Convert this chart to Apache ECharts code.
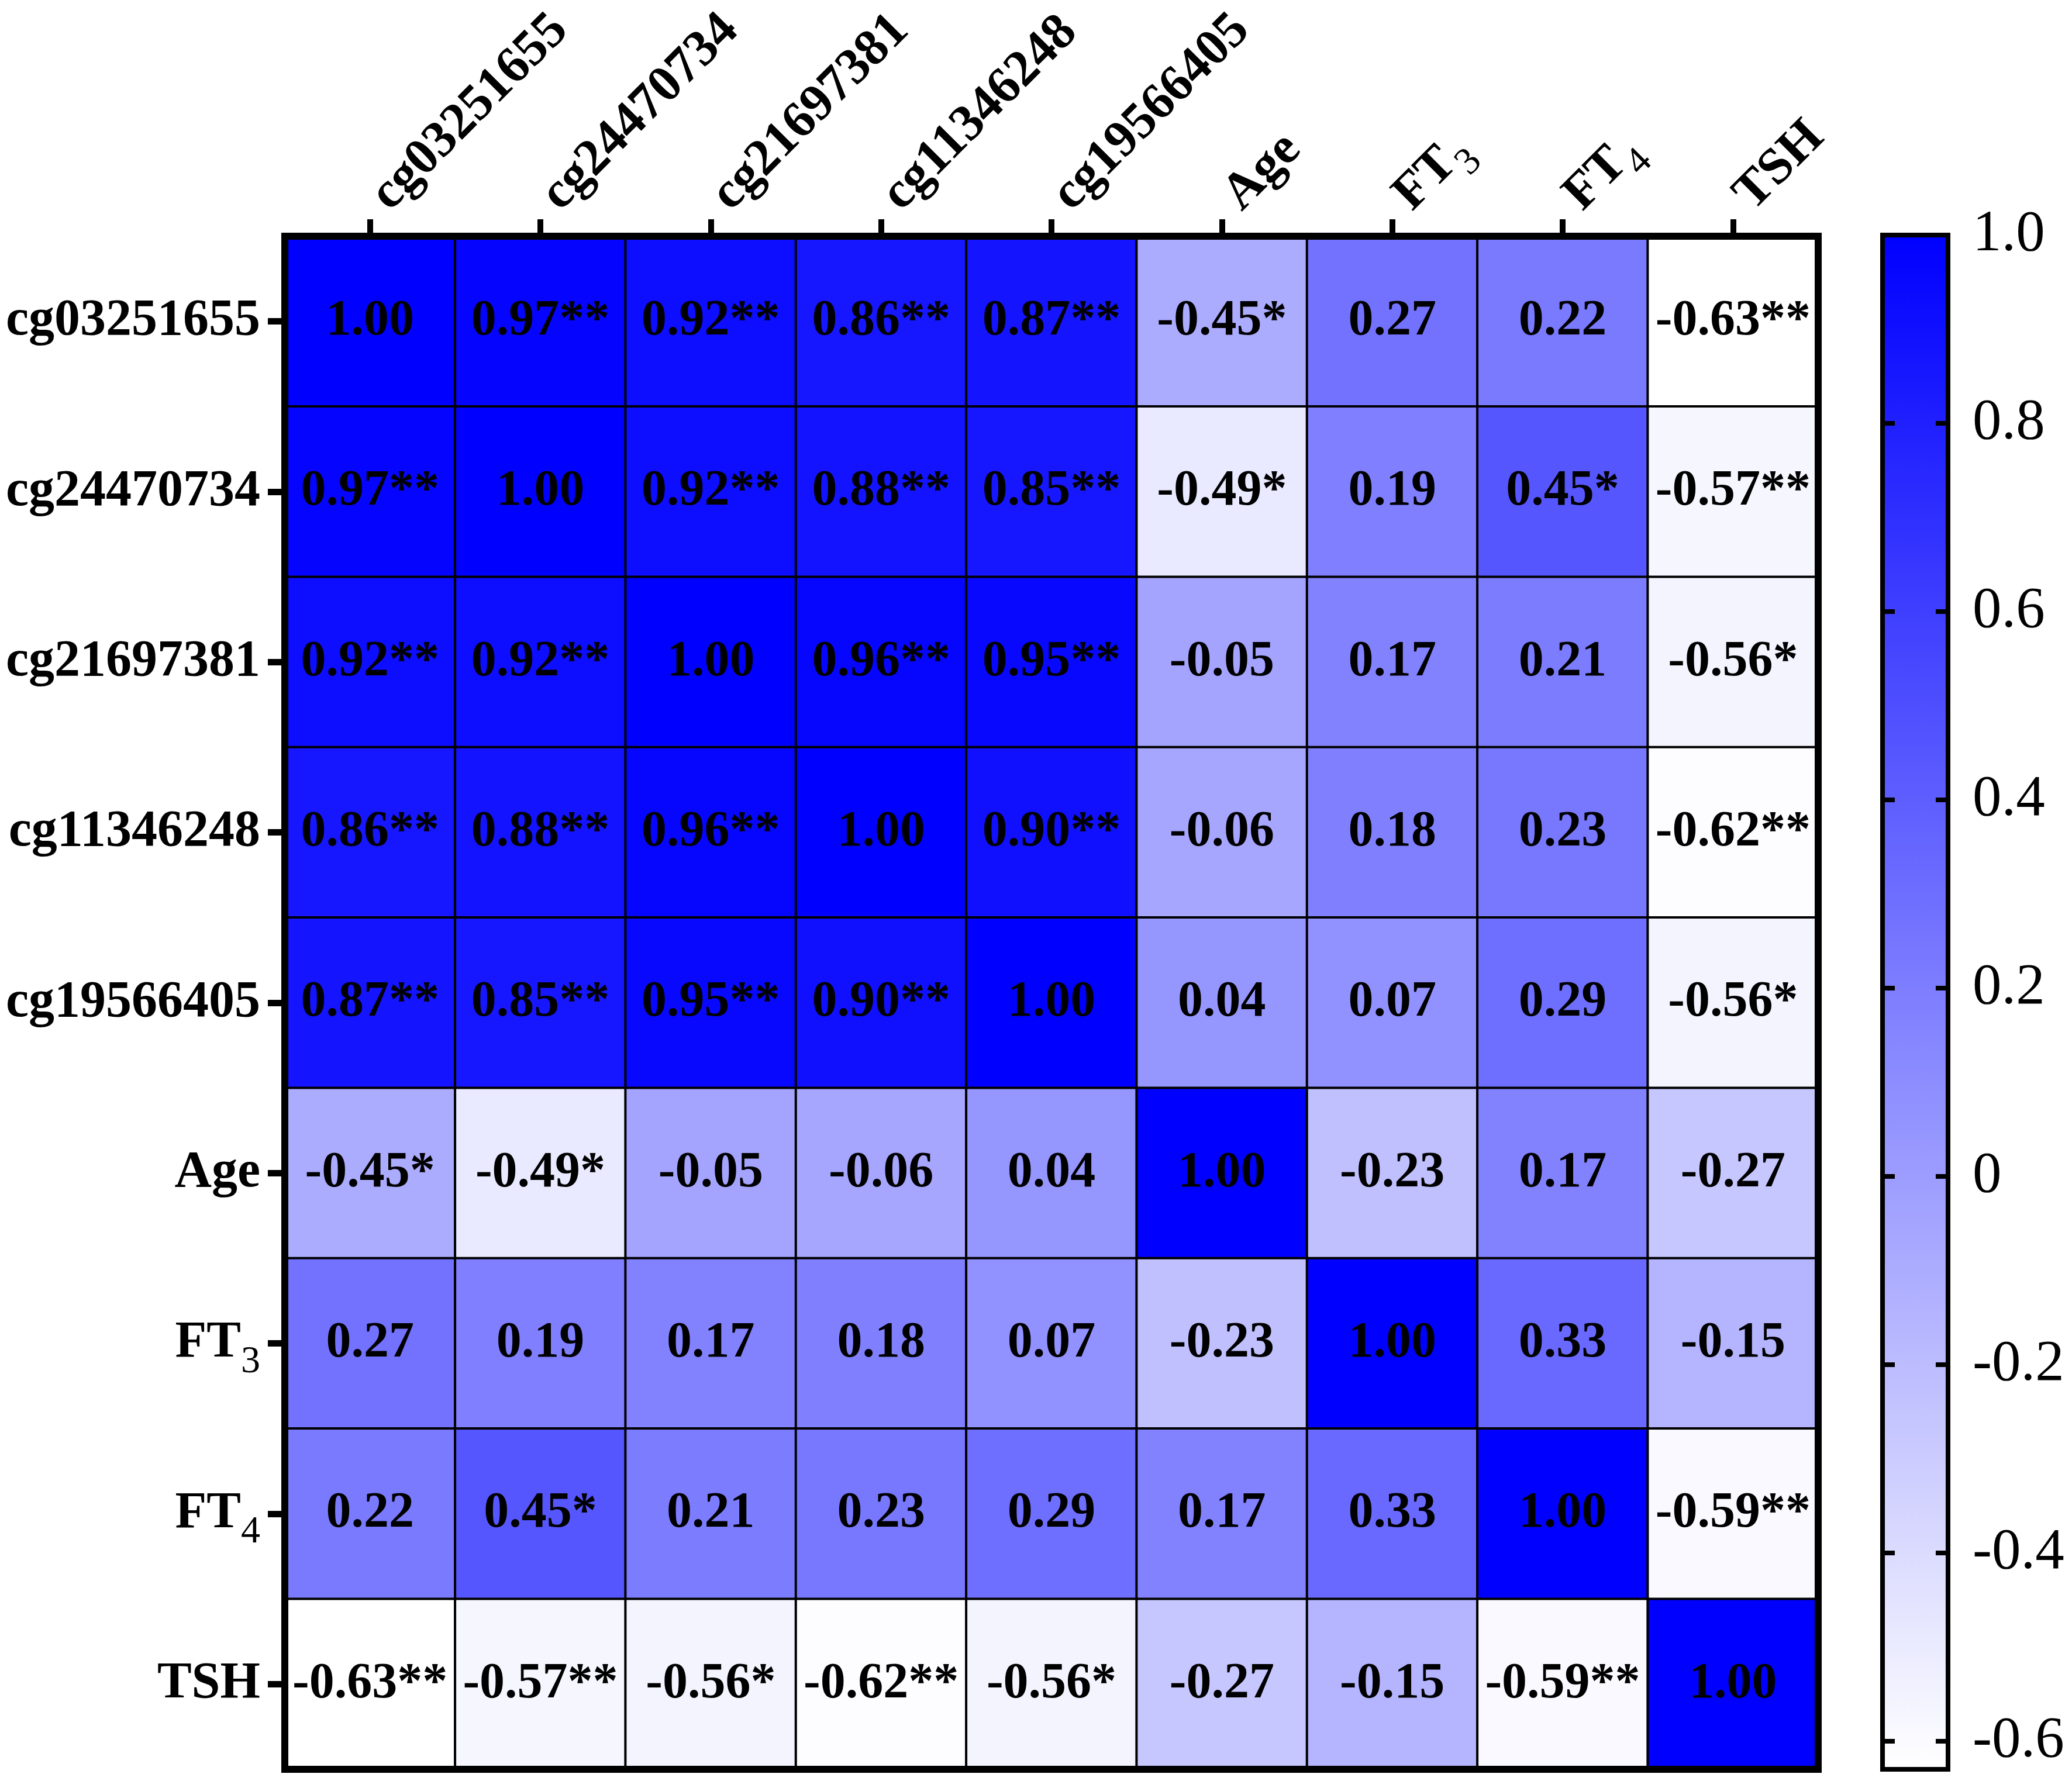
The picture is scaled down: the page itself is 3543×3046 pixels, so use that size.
<!DOCTYPE html>
<html><head><meta charset="utf-8">
<script src="https://cdn.jsdelivr.net/npm/echarts@6/dist/echarts.min.js"></script>
<style>html,body{margin:0;padding:0;background:#fff}#c{width:3543px;height:3046px}</style>
</head><body><div id="c"></div>
<script>
// ---- data ----
const variables = ['cg03251655','cg24470734','cg21697381','cg11346248','cg19566405','Age','FT3','FT4','TSH'];
const corr = [
  [ 1.00, 0.97, 0.92, 0.86, 0.87,-0.45, 0.27, 0.22,-0.63],
  [ 0.97, 1.00, 0.92, 0.88, 0.85,-0.49, 0.19, 0.45,-0.57],
  [ 0.92, 0.92, 1.00, 0.96, 0.95,-0.05, 0.17, 0.21,-0.56],
  [ 0.86, 0.88, 0.96, 1.00, 0.90,-0.06, 0.18, 0.23,-0.62],
  [ 0.87, 0.85, 0.95, 0.90, 1.00, 0.04, 0.07, 0.29,-0.56],
  [-0.45,-0.49,-0.05,-0.06, 0.04, 1.00,-0.23, 0.17,-0.27],
  [ 0.27, 0.19, 0.17, 0.18, 0.07,-0.23, 1.00, 0.33,-0.15],
  [ 0.22, 0.45, 0.21, 0.23, 0.29, 0.17, 0.33, 1.00,-0.59],
  [-0.63,-0.57,-0.56,-0.62,-0.56,-0.27,-0.15,-0.59, 1.00]
];
const stars = [
  ['',  '**','**','**','**','*', '',  '',  '**'],
  ['**','',  '**','**','**','*', '',  '*', '**'],
  ['**','**','',  '**','**','',  '',  '',  '*' ],
  ['**','**','**','',  '**','',  '',  '',  '**'],
  ['**','**','**','**','',  '',  '',  '',  '*' ],
  ['*', '*', '',  '',  '',  '',  '',  '',  ''  ],
  ['',  '',  '',  '',  '',  '',  '',  '',  ''  ],
  ['',  '*', '',  '',  '',  '',  '',  '',  '**'],
  ['**','**','*', '**','*', '',  '',  '**','']
];
// fill shade of each cell
const fillValues = [
  [ 1.00, 0.97, 0.92, 0.86, 0.87,-0.10, 0.27, 0.22,-0.63],
  [ 0.97, 1.00, 0.92, 0.88, 0.85,-0.49, 0.19, 0.45,-0.57],
  [ 0.92, 0.92, 1.00, 0.96, 0.95,-0.05, 0.17, 0.21,-0.56],
  [ 0.86, 0.88, 0.96, 1.00, 0.90,-0.06, 0.18, 0.23,-0.62],
  [ 0.87, 0.85, 0.95, 0.90, 1.00, 0.04, 0.07, 0.29,-0.56],
  [-0.10,-0.49,-0.05,-0.06, 0.04, 1.00,-0.23, 0.17,-0.27],
  [ 0.27, 0.19, 0.17, 0.18, 0.07,-0.23, 1.00, 0.33,-0.15],
  [ 0.22, 0.45, 0.21, 0.23, 0.29, 0.17, 0.33, 1.00,-0.59],
  [-0.63,-0.57,-0.56,-0.62,-0.56,-0.27,-0.15,-0.59, 1.00]
];
const colorbarTicks = [1.0, 0.8, 0.6, 0.4, 0.2, 0, -0.2, -0.4, -0.6];
const colorRange = [-0.63, 1.0];

// ---- chart ----
const FONT = "'Liberation Serif','Times New Roman',serif";
const heatData = [];
for (let i = 0; i < variables.length; i++)
  for (let j = 0; j < variables.length; j++)
    heatData.push([j, i, fillValues[i][j]]);

function catLabel(name) {
  const m = /^FT(\d)$/.exec(name);
  return m ? '{m|FT}{s|' + m[1] + '}' : '{m|' + name + '}';
}
const subStyle = {fontFamily: FONT, fontWeight: 'normal', fontSize: 66, color: '#000', verticalAlign: 'bottom', lineHeight: 130};
const leftRich = {
  m: {fontFamily: FONT, fontWeight: 'bold', fontSize: 88, color: '#000', lineHeight: 88},
  s: subStyle
};
const topRich = {
  m: {fontFamily: FONT, fontWeight: 'bold', fontSize: 88, color: '#000', lineHeight: 88, padding: [0, 0, 0, 25]},
  s: subStyle
};

const chart = echarts.init(document.getElementById('c'), null, {renderer: 'canvas'});
chart.setOption({
  backgroundColor: '#ffffff',
  animation: false,
  grid: [
    {left: 487, top: 404, width: 2622, height: 2622, show: true, z: 10,
     backgroundColor: 'transparent', borderColor: '#000', borderWidth: 12},
    {left: 3219, top: 402, width: 112, height: 2624, show: true, z: 10,
     backgroundColor: 'transparent', borderColor: '#000', borderWidth: 8}
  ],
  xAxis: [
    {type: 'category', gridIndex: 0, position: 'top', data: variables,
     axisLine: {show: false}, splitLine: {show: false},
     axisTick: {show: true, alignWithLabel: true, length: 29, lineStyle: {color: '#000', width: 10}},
     axisLabel: {rotate: -45, margin: 40, formatter: catLabel, rich: topRich}},
    {type: 'value', gridIndex: 1, min: 0, max: 1, show: false}
  ],
  yAxis: [
    {type: 'category', gridIndex: 0, inverse: true, data: variables,
     axisLine: {show: false}, splitLine: {show: false},
     axisTick: {show: true, alignWithLabel: true, length: 29, lineStyle: {color: '#000', width: 11}},
     axisLabel: {margin: 42, formatter: catLabel, rich: leftRich}},
    {type: 'value', gridIndex: 1, position: 'left', min: colorRange[0], max: colorRange[1], z: 12,
     axisLine: {show: false}, splitLine: {show: false}, axisLabel: {show: false},
     axisTick: {show: true, inside: true, length: 21, customValues: colorbarTicks, lineStyle: {color: '#000', width: 8}}},
    {type: 'value', gridIndex: 1, position: 'right', min: colorRange[0], max: colorRange[1], z: 12,
     axisLine: {show: false}, splitLine: {show: false},
     axisTick: {show: true, inside: true, length: 21, customValues: colorbarTicks, lineStyle: {color: '#000', width: 8}},
     axisLabel: {show: true, margin: 42, customValues: colorbarTicks, fontFamily: FONT, fontSize: 99, color: '#000',
       formatter: v => (Math.abs(v) < 1e-9 ? '0' : v.toFixed(1))}}
  ],
  visualMap: {
    type: 'continuous', show: false, seriesIndex: 0, dimension: 2,
    min: colorRange[0], max: colorRange[1],
    inRange: {color: ['#ffffff', '#0000ff']}
  },
  series: [
    {type: 'heatmap', xAxisIndex: 0, yAxisIndex: 0, data: heatData,
     itemStyle: {borderColor: '#000', borderWidth: 4},
     emphasis: {disabled: true},
     label: {show: true, fontFamily: FONT, fontWeight: 'bold', fontSize: 86, color: '#000',
       formatter: p => corr[p.data[1]][p.data[0]].toFixed(2) + stars[p.data[1]][p.data[0]]}},
    {type: 'custom', xAxisIndex: 1, yAxisIndex: 1, data: [[0, colorRange[1]]], silent: true,
     renderItem: function (params, api) {
       const p1 = api.coord([0, colorRange[1]]);
       const p2 = api.coord([1, colorRange[0]]);
       return {type: 'rect',
         shape: {x: p1[0], y: p1[1], width: p2[0] - p1[0], height: p2[1] - p1[1]},
         style: {fill: new echarts.graphic.LinearGradient(0, 0, 0, 1, [
           {offset: 0, color: '#0000ff'}, {offset: 1, color: '#ffffff'}])}};
     }}
  ]
});
</script>
</body></html>
